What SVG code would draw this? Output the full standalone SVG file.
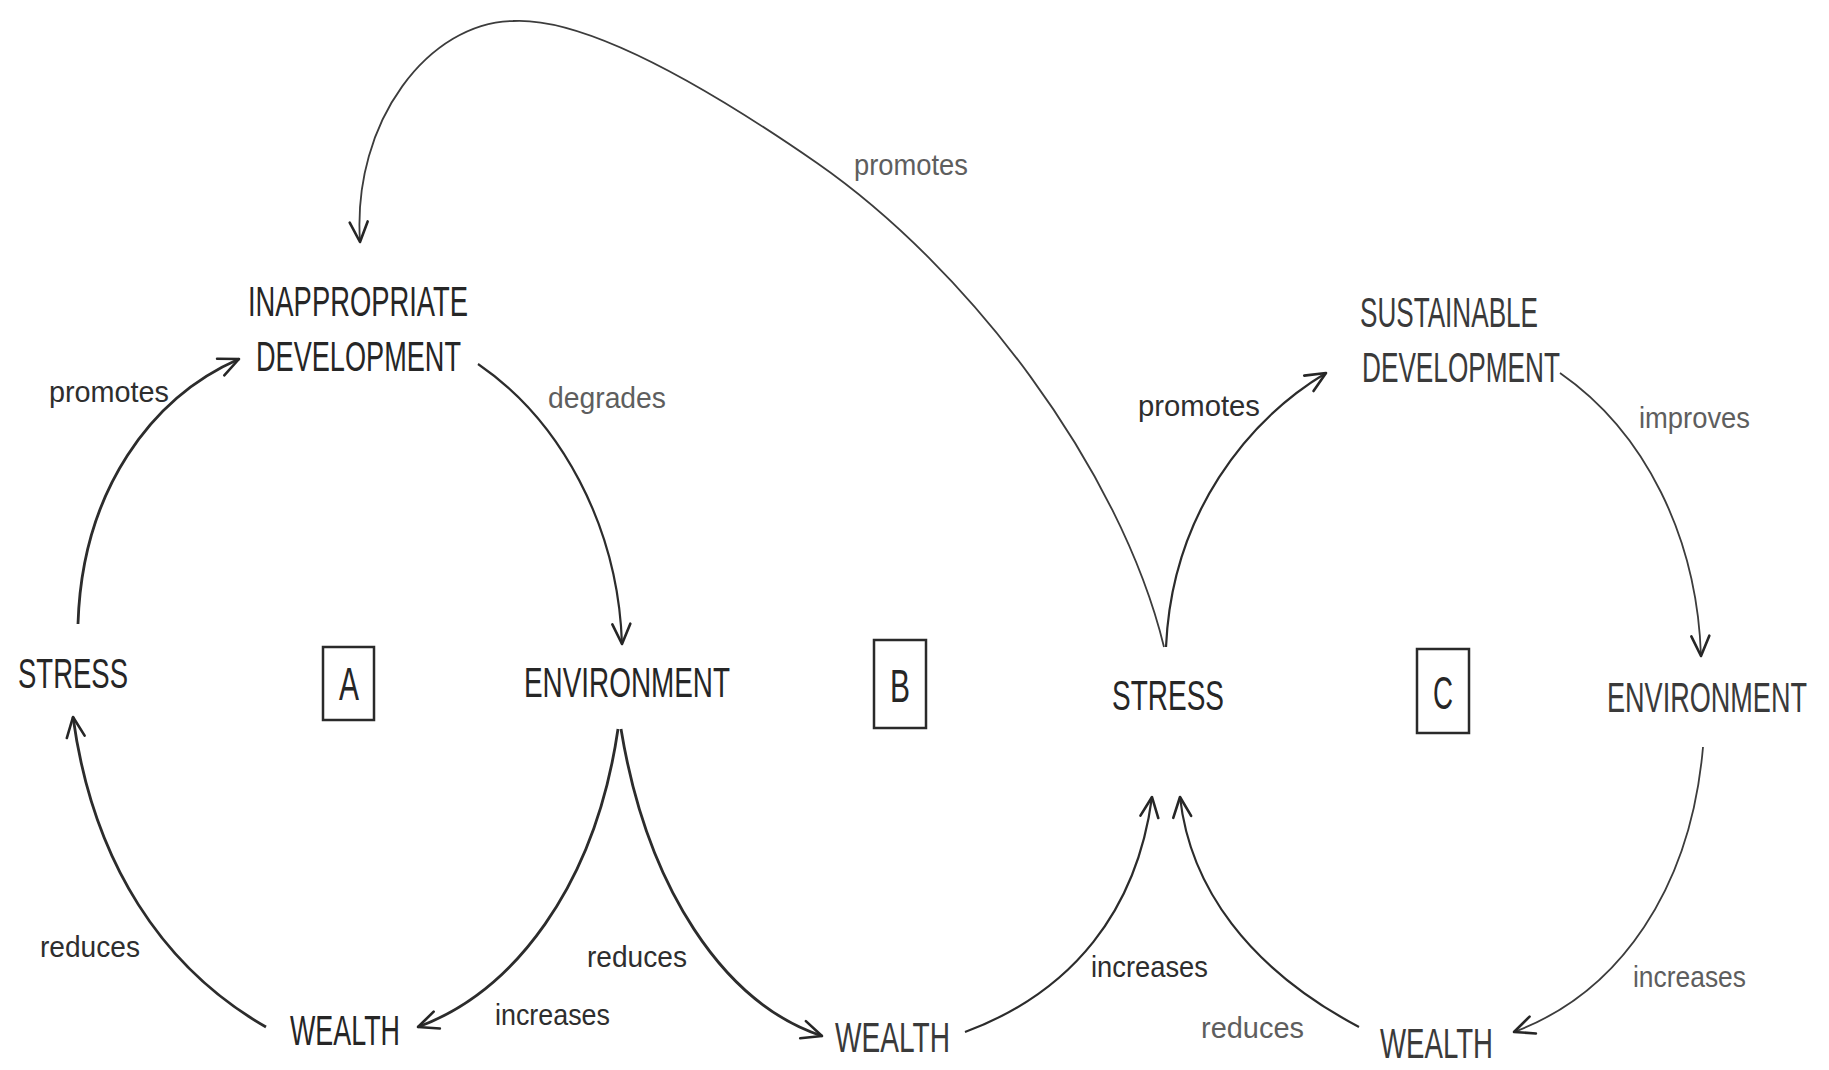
<svg xmlns="http://www.w3.org/2000/svg" width="1829" height="1070" viewBox="0 0 1829 1070">
  <style>
    .bg { fill: #ffffff; }
    .node { font-family: "Liberation Sans", Arial, sans-serif; font-size: 42px; fill: #262626; }
    .node.soft { fill: #3a3a3a; }
    .lbl { font-family: "Liberation Sans", Arial, sans-serif; font-size: 30px; fill: #2e2e2e; }
    .lbl.light { fill: #5e5e5e; }
    .box { fill: none; stroke: #2a2a2a; stroke-width: 2.5; }
    .boxletter { font-family: "Liberation Sans", Arial, sans-serif; font-size: 46px; fill: #262626; }
    .conn { fill: none; stroke: #2c2c2c; stroke-width: 2.2; marker-end: url(#arrow); }
    .conn.bold { stroke-width: 2.8; }
    .conn.thin { stroke: #3c3c3c; stroke-width: 1.8; }
  </style>
  <defs>
    <marker id="arrow" markerUnits="userSpaceOnUse" markerWidth="26" markerHeight="26" viewBox="0 0 26 26" refX="23" refY="13" orient="auto">
      <path d="M3,4 L23,13 L3,22" fill="none" stroke="#262626" stroke-width="2.6" stroke-linecap="round" stroke-linejoin="round"/>
    </marker>
  </defs>
  <rect class="bg" x="0" y="0" width="1829" height="1070"/>

  <g id="connectors">
    <path class="conn bold" d="M78,624 C82,490 152,397 239,359"/>
    <path class="conn" d="M478,364 C560,420 618,525 622,644"/>
    <path class="conn bold" d="M618,729 C595,887 513,992 418,1027"/>
    <path class="conn bold" d="M266,1027 C163,968 93,863 73,717"/>
    <path class="conn bold" d="M621,729 C647,887 723,1003 822,1036"/>
    <path class="conn" d="M965,1032 C1073,992 1137,910 1152,797"/>
    <path class="conn" d="M1359,1027 C1248,968 1190,887 1180,797"/>
    <path class="conn" d="M1166,647 C1172,513 1248,420 1326,373"/>
    <path class="conn thin" d="M1560,373 C1645,432 1697,537 1701,656"/>
    <path class="conn thin" d="M1703,747 C1691,887 1621,992 1514,1032"/>
    <path class="conn thin" d="M1164,647 C1120,467 968,268 817,163 C700,82 583,17 513,21 C430,22 352,120 360,242"/>
  </g>

  <g id="node-inappropriate-development">
    <text class="node" x="248" y="316" textLength="220" lengthAdjust="spacingAndGlyphs">INAPPROPRIATE</text>
    <text class="node" x="256" y="371" textLength="205" lengthAdjust="spacingAndGlyphs">DEVELOPMENT</text>
  </g>
  <g id="node-stress-a">
    <text class="node" x="18" y="688" textLength="110" lengthAdjust="spacingAndGlyphs">STRESS</text>
  </g>
  <g id="node-environment-a">
    <text class="node" x="524" y="697" textLength="206" lengthAdjust="spacingAndGlyphs">ENVIRONMENT</text>
  </g>
  <g id="node-wealth-a">
    <text class="node" x="290" y="1045" textLength="110" lengthAdjust="spacingAndGlyphs">WEALTH</text>
  </g>
  <g id="node-wealth-b">
    <text class="node soft" x="835" y="1052" textLength="115" lengthAdjust="spacingAndGlyphs">WEALTH</text>
  </g>
  <g id="node-stress-b">
    <text class="node" x="1112" y="710" textLength="112" lengthAdjust="spacingAndGlyphs">STRESS</text>
  </g>
  <g id="node-sustainable-development">
    <text class="node soft" x="1360" y="327" textLength="178" lengthAdjust="spacingAndGlyphs">SUSTAINABLE</text>
    <text class="node soft" x="1362" y="382" textLength="198" lengthAdjust="spacingAndGlyphs">DEVELOPMENT</text>
  </g>
  <g id="node-environment-c">
    <text class="node soft" transform="translate(1607,712) scale(0.6445,1)" x="0" y="0">ENVIRONMENT</text>
  </g>
  <g id="node-wealth-c">
    <text class="node soft" x="1380" y="1058" textLength="113" lengthAdjust="spacingAndGlyphs">WEALTH</text>
  </g>

  <g id="loop-a">
    <rect class="box" x="323" y="647" width="51" height="73"/>
    <text class="boxletter" x="339" y="700" textLength="20" lengthAdjust="spacingAndGlyphs">A</text>
  </g>
  <g id="loop-b">
    <rect class="box" x="874" y="640" width="52" height="88"/>
    <text class="boxletter" x="890" y="702" textLength="20" lengthAdjust="spacingAndGlyphs">B</text>
  </g>
  <g id="loop-c">
    <rect class="box" x="1417" y="649" width="52" height="84"/>
    <text class="boxletter" x="1433" y="709" textLength="20" lengthAdjust="spacingAndGlyphs">C</text>
  </g>

  <g id="labels">
    <text class="lbl" x="49" y="402" textLength="120" lengthAdjust="spacingAndGlyphs">promotes</text>
    <text class="lbl light" x="548" y="408" textLength="118" lengthAdjust="spacingAndGlyphs">degrades</text>
    <text class="lbl light" x="854" y="175" textLength="114" lengthAdjust="spacingAndGlyphs">promotes</text>
    <text class="lbl" x="1138" y="416" textLength="122" lengthAdjust="spacingAndGlyphs">promotes</text>
    <text class="lbl light" x="1639" y="428" textLength="111" lengthAdjust="spacingAndGlyphs">improves</text>
    <text class="lbl" x="40" y="957" textLength="100" lengthAdjust="spacingAndGlyphs">reduces</text>
    <text class="lbl" x="495" y="1025" textLength="115" lengthAdjust="spacingAndGlyphs">increases</text>
    <text class="lbl" x="587" y="967" textLength="100" lengthAdjust="spacingAndGlyphs">reduces</text>
    <text class="lbl" x="1091" y="977" textLength="117" lengthAdjust="spacingAndGlyphs">increases</text>
    <text class="lbl light" x="1201" y="1038" textLength="103" lengthAdjust="spacingAndGlyphs">reduces</text>
    <text class="lbl light" x="1633" y="987" textLength="113" lengthAdjust="spacingAndGlyphs">increases</text>
  </g>
</svg>
